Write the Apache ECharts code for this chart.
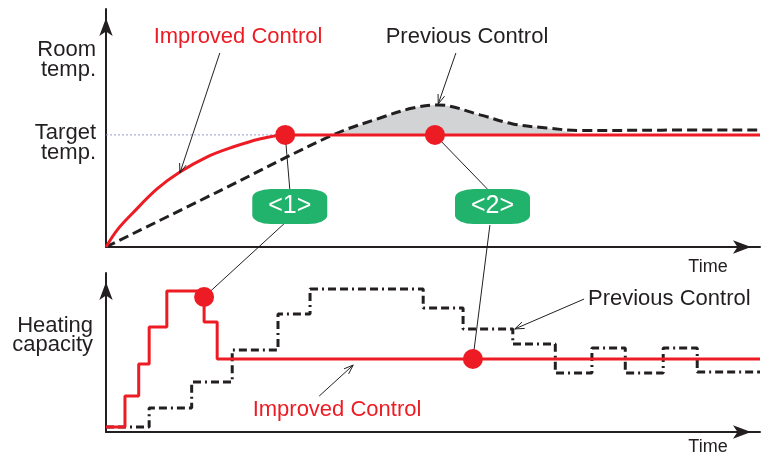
<!DOCTYPE html>
<html>
<head>
<meta charset="utf-8">
<script src="https://cdn.jsdelivr.net/npm/echarts@6/dist/echarts.min.js"></script>
<style>
html, body { margin: 0; padding: 0; background: #fff; }
#grafico { width: 767px; height: 455px; }
</style>
</head>
<body>
<div id="grafico"></div>
<script>
/* colours */
var RED = '#ed1c24';
var INK = '#231f20';
var GREEN = '#21b36b';
var FONT = '"Liberation Sans", Arial, sans-serif';

/* top panel: room temperature vs time (both 0-100) */
var TARGET = 47.1;
var improvedTemp = [[0, 0], [1.7, 7.1], [4.1, 14.3], [7.8, 24.4], [11.3, 31.5], [15.4, 37.8],
    [19.4, 42.0], [23.5, 45.4], [27.4, 47.1], [35, 47.1], [100, 47.1]];
var previousTemp = [[0, 0], [17.4, 23.6], [34.7, 47.1], [41.9, 54.2], [46.9, 58.4], [50.8, 59.7],
    [57.2, 55.5], [62.2, 51.7], [67.4, 50.0], [72.5, 48.9], [85, 49.1], [100, 49.2]];
var overshoot = [[34.7, 47.1], [41.9, 54.2], [46.9, 58.4], [50.8, 59.7], [57.2, 55.5],
    [62.2, 51.7], [67.4, 50.0], [72.5, 47.1]];
var tempDots = [[27.4, 47.1], [50.3, 47.1]];
var badges = [{ name: '<1>', value: [28.1, 17.0] }, { name: '<2>', value: [59.1, 17.0] }];

/* bottom panel: heating capacity, one point per level change */
var improvedHeat = [[0, 3.1], [2.9, 22.6], [5.0, 42.8], [6.6, 66.0], [9.3, 88.7], [15.0, 69.2],
    [17.0, 45.9], [100, 45.9]];
var previousHeat = [[0, 3.1], [6.6, 15.1], [13.1, 31.4], [19.3, 51.6], [26.3, 74.2], [31.2, 89.9],
    [48.5, 78.0], [54.6, 64.8], [62.2, 55.3], [68.7, 37.1], [74.3, 52.8], [79.4, 37.1],
    [85.2, 52.8], [90.4, 37.7], [100, 37.7]];
var heatDots = [[15.0, 84.9], [56.1, 45.9]];

/* leader lines: [grid, point, grid, point] */
var leaders = [
    [0, [27.4, 47.1], 0, [28.1, 24.4]],
    [0, [27.2, 9.7], 1, [15.0, 84.9]],
    [0, [50.3, 47.1], 0, [58.3, 24.4]],
    [0, [58.7, 9.2], 1, [56.1, 45.9]]
];
/* small pointer arrows from the labels: [grid, from, to] */
var pointers = [
    [0, [17.4, 81.5], [11.3, 31.1]],
    [0, [53.5, 81.5], [50.8, 60.1]],
    [1, [73.1, 83.6], [62.5, 64.8]],
    [1, [32.6, 22.6], [37.8, 42.1]]
];

var dom = document.getElementById('grafico');
var myChart = echarts.init(dom);

function axis(gi) {
    return {
        gridIndex: gi, type: 'value', min: 0, max: 100,
        axisLine: {
            show: true, onZero: false,
            symbol: ['none', 'arrow'], symbolSize: [10, 18], symbolOffset: [0, -9],
            lineStyle: { color: INK, width: 2 }
        },
        axisTick: { show: false },
        axisLabel: { show: false },
        splitLine: { show: false }
    };
}

var option = {
    animation: false,
    grid: [
        { left: 106, top: 9, width: 654, height: 238 },
        { left: 106, top: 273, width: 654, height: 159 }
    ],
    xAxis: [axis(0), axis(1)],
    yAxis: [axis(0), axis(1)],
    series: [
        {
            name: 'target', type: 'line', xAxisIndex: 0, yAxisIndex: 0,
            data: [[0, TARGET], [100, TARGET]], symbol: 'none', silent: true, z: 1,
            lineStyle: { color: '#9a9ad2', width: 1, type: [2, 2] }
        },
        {
            name: 'overshoot', type: 'line', xAxisIndex: 0, yAxisIndex: 0,
            data: overshoot, smooth: 0.35, symbol: 'none', z: 1,
            lineStyle: { width: 0 },
            areaStyle: { color: '#d1d3d4', opacity: 1, origin: TARGET }
        },
        {
            name: 'Previous Control', type: 'line', xAxisIndex: 0, yAxisIndex: 0,
            data: previousTemp, smooth: 0.35, symbol: 'none', z: 3,
            lineStyle: { color: INK, width: 3, type: [10, 5] }
        },
        {
            name: 'Improved Control', type: 'line', xAxisIndex: 0, yAxisIndex: 0,
            data: improvedTemp, smooth: 0.35, symbol: 'none', z: 4,
            lineStyle: { color: RED, width: 3 }
        },
        {
            type: 'scatter', xAxisIndex: 0, yAxisIndex: 0, data: tempDots,
            symbolSize: 20, itemStyle: { color: RED, opacity: 1 }, z: 6
        },
        {
            type: 'scatter', xAxisIndex: 0, yAxisIndex: 0, data: badges,
            symbol: 'roundRect', symbolSize: [75, 35], itemStyle: { color: GREEN, opacity: 1 }, z: 6,
            label: {
                show: true, position: 'inside', formatter: '{b}',
                color: '#fff', fontSize: 25, fontFamily: FONT
            }
        },
        {
            name: 'Previous Control', type: 'line', xAxisIndex: 1, yAxisIndex: 1,
            data: previousHeat, step: 'end', symbol: 'none', z: 3,
            lineStyle: { color: INK, width: 3, type: [8, 4, 8, 4, 2, 4] }
        },
        {
            name: 'Improved Control', type: 'line', xAxisIndex: 1, yAxisIndex: 1,
            data: improvedHeat, step: 'end', symbol: 'none', z: 4,
            lineStyle: { color: RED, width: 3 }
        },
        {
            type: 'scatter', xAxisIndex: 1, yAxisIndex: 1, data: heatDots,
            symbolSize: 20, itemStyle: { color: RED, opacity: 1 }, z: 6
        }
    ]
};

myChart.setOption(option);

function px(gi, p) {
    return myChart.convertToPixel({ gridIndex: gi }, p);
}

function label(text, x, y, color, size, align, lh) {
    return {
        type: 'text', z: 10,
        style: {
            text: text, x: x, y: y, fill: color,
            font: size + 'px ' + FONT, align: align, verticalAlign: 'middle',
            lineHeight: lh || size
        }
    };
}

var g = [];
leaders.forEach(function (l) {
    var a = px(l[0], l[1]), b = px(l[2], l[3]);
    g.push({ type: 'line', z: 0, shape: { x1: a[0], y1: a[1], x2: b[0], y2: b[1] },
        style: { stroke: INK, lineWidth: 1 } });
});
pointers.forEach(function (p) {
    var a = px(p[0], p[1]), b = px(p[0], p[2]);
    var ang = Math.atan2(b[1] - a[1], b[0] - a[0]), len = 10, spread = 0.35;
    g.push({ type: 'line', z: 10, shape: { x1: a[0], y1: a[1], x2: b[0], y2: b[1] },
        style: { stroke: INK, lineWidth: 1 } });
    g.push({ type: 'polyline', z: 10, shape: { points: [
        [b[0] - len * Math.cos(ang - spread), b[1] - len * Math.sin(ang - spread)],
        b,
        [b[0] - len * Math.cos(ang + spread), b[1] - len * Math.sin(ang + spread)]
    ] }, style: { stroke: INK, lineWidth: 1, fill: null } });
});

var targetY = px(0, [0, TARGET])[1];
g.push(label('Room\ntemp.', 96, 60, INK, 22, 'right', 20));
g.push(label('Target\ntemp.', 96, targetY + 8, INK, 22, 'right', 20));
g.push(label('Heating\ncapacity', 93, 335, INK, 22, 'right', 19));
g.push(label('Improved Control', 238, 37, RED, 22, 'center'));
g.push(label('Previous Control', 467, 37, INK, 22, 'center'));
g.push(label('Previous Control', 588, 299, INK, 22, 'left'));
g.push(label('Improved Control', 337, 410, RED, 22, 'center'));
g.push(label('Time', 708, 267, INK, 18, 'center'));
g.push(label('Time', 708, 447, INK, 18, 'center'));

myChart.setOption({ graphic: g });
</script>
</body>
</html>
